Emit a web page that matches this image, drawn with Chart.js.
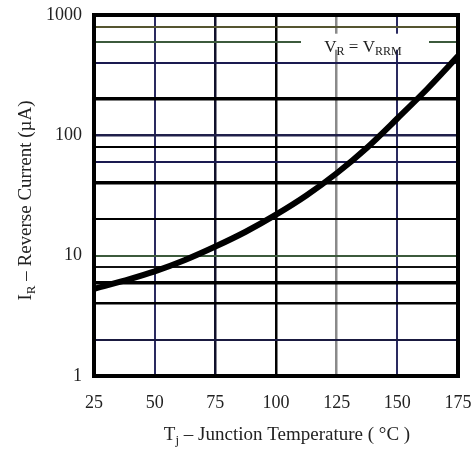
<!DOCTYPE html>
<html lang="en">
<head>
    <meta charset="UTF-8">
    <title>Reverse Current vs Junction Temperature</title>
    <script src="https://cdn.jsdelivr.net/npm/chart.js@4.4.0/dist/chart.umd.js"></script>
    <style>
        html, body { margin: 0; padding: 0; background: #fff; overflow: hidden; }
        #wrap { width: 474px; height: 454px; }
    </style>
</head>
<body>
    <div id="wrap"><canvas id="irChart"></canvas></div>

    <script>
        // Data
        const temps = [25, 37.5, 50, 62.5, 75, 87.5, 100, 112.5, 125, 137.5, 150, 162.5, 175];
        const current = [5.3, 6.2, 7.4, 9.2, 11.9, 15.8, 21.9, 31.6, 48.4, 79, 138, 245, 455];

        // Axis ticks / grid
        const xTicks = [25, 50, 75, 100, 125, 150, 175];
        const yGrid = [1, 2, 4, 6, 8, 10, 20, 40, 60, 80, 100, 200, 400, 600, 800, 1000];
        const yLabels = [1, 10, 100, 1000];

        const serif = "'Liberation Serif', 'DejaVu Serif', serif";

        // grid colours/widths roughly as in the scan
        const hGridStyle = {
            2: ['#1a1a40', 2], 4: ['#000', 2.5], 6: ['#000', 3.5], 8: ['#111', 2], 10: ['#3c5a3c', 2],
            20: ['#000', 2], 40: ['#000', 3.5], 60: ['#1a1a50', 2], 80: ['#000', 2], 100: ['#20204a', 2.5],
            200: ['#000', 3.5], 400: ['#1a1a50', 2], 600: ['#3c5a3c', 2], 800: ['#555530', 2]
        };
        const vGridStyle = {
            50: ['#2a2a60', 2], 75: ['#10102a', 2.5], 100: ['#000', 2.5], 125: ['#8a8a8a', 2.5], 150: ['#2a2a60', 2]
        };

        const overlay = {
            id: 'overlay',
            afterDraw(chart) {
                const { ctx, chartArea: a, scales } = chart;
                ctx.save();
                // frame
                ctx.lineWidth = 4;
                ctx.strokeStyle = '#000';
                ctx.strokeRect(a.left, a.top, a.right - a.left, a.bottom - a.top);

                // V_R = V_RRM label with white backing over the 600 line
                const ly = scales.y.getPixelForValue(600);
                ctx.fillStyle = '#fff';
                ctx.fillRect(a.left + 207, ly - 8, 128, 16);
                const parts = [['V', 17, 0], ['R', 12, 3], [' = ', 17, 0], ['V', 17, 0], ['RRM', 12, 3]];
                drawRich(ctx, parts, a.left + 269, ly + 10);

                // x axis title: T_j – Junction Temperature ( °C )
                const xt = [['T', 19, 0], ['j', 13, 4], [' \u2013 Junction Temperature ( \u00B0C )', 19, 0]];
                drawRich(ctx, xt, 287, 440);

                // y axis title (rotated): I_R – Reverse Current (µA)
                ctx.translate(31, (a.top + a.bottom) / 2 + 5);
                ctx.rotate(-Math.PI / 2);
                const yt = [['I', 19, 0], ['R', 13, 4], [' \u2013 Reverse Current (\u00B5A)', 19, 0]];
                drawRich(ctx, yt, 0, 0);
                ctx.restore();
            }
        };

        function drawRich(ctx, parts, cx, base) {
            let w = 0;
            parts.forEach(p => { ctx.font = p[1] + 'px ' + serif; w += ctx.measureText(p[0]).width; });
            let x = cx - w / 2;
            ctx.textAlign = 'left';
            ctx.textBaseline = 'alphabetic';
            ctx.fillStyle = '#222';
            parts.forEach(p => {
                ctx.font = p[1] + 'px ' + serif;
                ctx.fillText(p[0], x, base + p[2]);
                x += ctx.measureText(p[0]).width;
            });
        }

        new Chart(document.getElementById('irChart'), {
            type: 'line',
            data: {
                datasets: [{
                    data: temps.map((t, i) => ({ x: t, y: current[i] })),
                    borderColor: '#000',
                    borderWidth: 6,
                    pointRadius: 0,
                    fill: false,
                    cubicInterpolationMode: 'monotone'
                }]
            },
            options: {
                responsive: true,
                maintainAspectRatio: false,
                animation: false,
                layout: { padding: { top: 15, right: 16, left: 0, bottom: 0 } },
                plugins: { legend: { display: false }, tooltip: { enabled: false } },
                scales: {
                    x: {
                        type: 'linear',
                        min: 25,
                        max: 175,
                        afterBuildTicks: s => { s.ticks = xTicks.map(v => ({ value: v })); },
                        afterFit: s => { s.height = 78; s.paddingLeft = 0; s.paddingRight = 0; },
                        ticks: {
                            padding: 16,
                            color: '#222',
                            font: { family: serif, size: 18 },
                            maxRotation: 0
                        },
                        grid: {
                            drawTicks: false,
                            color: c => (vGridStyle[c.tick && c.tick.value] || ['rgba(0,0,0,0)'])[0],
                            lineWidth: c => (vGridStyle[c.tick && c.tick.value] || [0, 0])[1]
                        },
                        border: { display: false }
                    },
                    y: {
                        type: 'logarithmic',
                        min: 1,
                        max: 1000,
                        afterBuildTicks: s => { s.ticks = yGrid.map(v => ({ value: v })); },
                        afterFit: s => { s.width = 94; s.paddingTop = 0; s.paddingBottom = 0; },
                        ticks: {
                            padding: 12,
                            color: '#222',
                            font: { family: serif, size: 18 },
                            autoSkip: false,
                            callback: v => yLabels.includes(v) ? String(v) : ''
                        },
                        grid: {
                            drawTicks: false,
                            color: c => (hGridStyle[c.tick && c.tick.value] || ['rgba(0,0,0,0)'])[0],
                            lineWidth: c => (hGridStyle[c.tick && c.tick.value] || [0, 0])[1]
                        },
                        border: { display: false }
                    }
                }
            },
            plugins: [overlay]
        });
    </script>
</body>
</html>
